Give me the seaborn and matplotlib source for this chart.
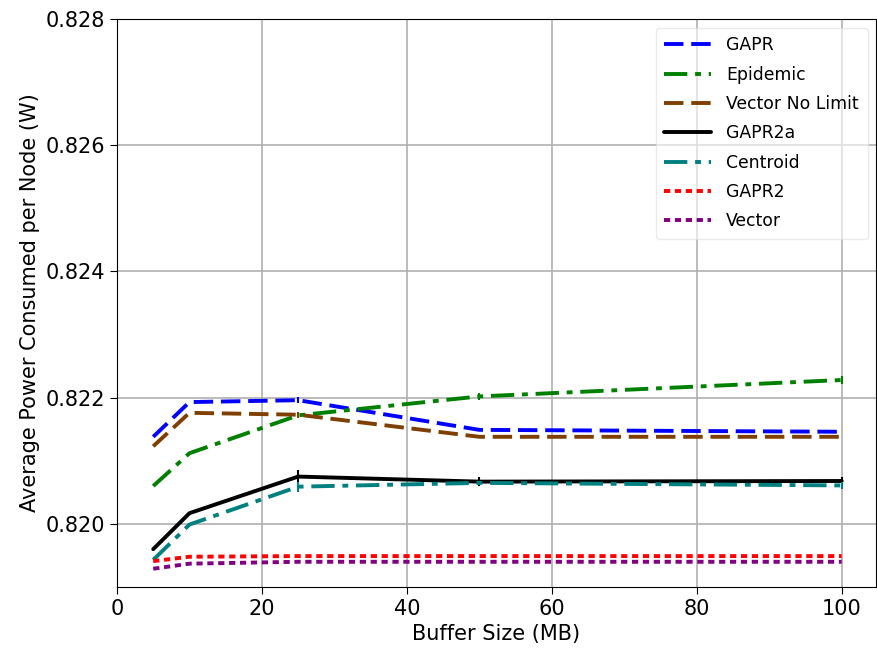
import numpy as np
import pandas as pd
import matplotlib
matplotlib.use("Agg")
import matplotlib.pyplot as plt
import seaborn as sns

# buffer sizes (MB)
buffer_sizes = [5, 10, 25, 50, 100]

# average power per node (W)
gapr = [0.82138, 0.82193, 0.82196, 0.82149, 0.82146]
epidemic = [0.82060, 0.82112, 0.82172, 0.82202, 0.82228]
vector_no_limit = [0.82123, 0.82176, 0.82173, 0.82138, 0.82138]
gapr2a = [0.81960, 0.82017, 0.82075, 0.82067, 0.82068]
centroid = [0.81943, 0.81999, 0.82059, 0.82065, 0.82061]
gapr2 = [0.81941, 0.81948, 0.81949, 0.81949, 0.81949]
vector = [0.81929, 0.81937, 0.81940, 0.81940, 0.81940]

# small spread shown as error bars
gapr_err = [0.0, 0.0, 0.00005, 0.0, 0.0]
epidemic_err = [0.0, 0.0, 0.0, 0.00006, 0.00006]
vector_no_limit_err = [0.0, 0.0, 0.00005, 0.0, 0.0]
gapr2a_err = [0.0, 0.0, 0.0001, 0.00007, 0.00006]
centroid_err = [0.0, 0.0, 0.00008, 0.00003, 0.00006]

series = [
    ("GAPR", gapr, gapr_err, "blue", (0, (5, 2))),
    ("Epidemic", epidemic, epidemic_err, "green", (0, (6, 2, 1.5, 2))),
    ("Vector No Limit", vector_no_limit, vector_no_limit_err, "#7f3f00", (0, (5, 2))),
    ("GAPR2a", gapr2a, gapr2a_err, "black", "-"),
    ("Centroid", centroid, centroid_err, "teal", (0, (6, 2, 1.5, 2))),
    ("GAPR2", gapr2, None, "red", (0, (1.6, 1.2))),
    ("Vector", vector, None, "purple", (0, (1.6, 1.2))),
]

sns.set_style("ticks")
plt.rcParams["font.family"] = ["DejaVu Sans"]
plt.rcParams.update({"text.color": "black", "axes.labelcolor": "black",
                     "xtick.color": "black", "ytick.color": "black",
                     "axes.edgecolor": "black"})

fig, ax = plt.subplots(figsize=(8.77, 6.54), dpi=100)
fig.subplots_adjust(left=0.1334, right=0.999, top=0.971, bottom=0.1024)

for name, vals, err, color, ls in series:
    df = pd.DataFrame({"x": buffer_sizes, "y": vals})
    sns.lineplot(data=df, x="x", y="y", ax=ax, color=color, linewidth=2.8,
                 linestyle=ls, label=name)
    if err is not None:
        ax.errorbar(buffer_sizes, vals, yerr=err, fmt="none", ecolor=color,
                    elinewidth=1.5, capsize=0)

ax.set_xlim(0, 104.75)
ax.set_ylim(0.819, 0.828)
ax.set_yticks([0.820, 0.822, 0.824, 0.826, 0.828])
ax.yaxis.set_major_formatter(matplotlib.ticker.FormatStrFormatter("%.3f"))
ax.grid(True, color="#b0b0b0", linewidth=1.2)
ax.set_axisbelow(True)
ax.tick_params(labelsize=15, length=5)
ax.set_xlabel("Buffer Size (MB)", fontsize=15)
ax.set_ylabel("Average Power Consumed per Node (W)", fontsize=15)
ax.legend(loc="upper right", fontsize=12.4, handlelength=2.7,
          labelspacing=0.66, handletextpad=0.9, borderpad=0.5,
          edgecolor="#dddddd", framealpha=0.6)

plt.savefig("out.png", dpi=100)
